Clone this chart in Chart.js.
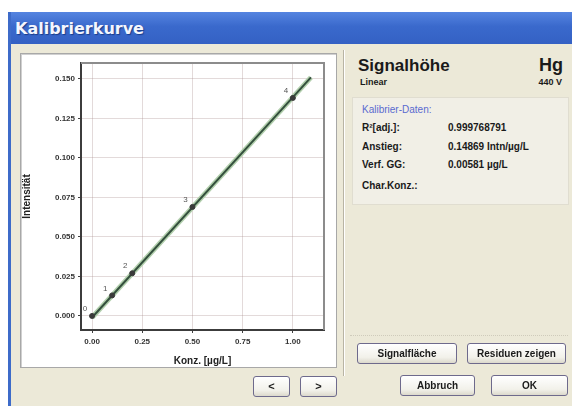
<!DOCTYPE html>
<html>
<head>
<meta charset="utf-8">
<script src="https://cdn.jsdelivr.net/npm/chart.js@4"></script>
<style>
  html, body { margin: 0; padding: 0; background: #fff; }
  body { width: 572px; height: 406px; position: relative; overflow: hidden; font-family: "Liberation Sans", Arial, sans-serif; }
  .win { position: absolute; left: 8px; top: 12px; width: 580px; height: 400px; background: #ECE9D8; border-left: 3px solid #3d6bc9; box-sizing: border-box; }
  .titlebar { position: absolute; left: 0; top: 0; right: 0; height: 32px; background: linear-gradient(#5584e0, #3a69cc 45%, #3461c4); }
  .titlebar span { position: absolute; left: 4px; top: 7px; color: #f4f6ff; font: bold 16px "DejaVu Sans", sans-serif; text-shadow: 1px 1px 1px #1b3d8a; }
  .panel { position: absolute; left: 20px; top: 53px; width: 315px; height: 313px; border: 1px solid #a8a8a8; background: #fff; box-shadow: inset 1px 1px 0 #d0d0d0; }
  .sep { position: absolute; left: 343px; top: 50px; width: 1px; height: 326px; background: #b8b4a4; border-right: 1px solid #fff; }
  .t { position: absolute; white-space: nowrap; color: #1a1a1a; font-weight: bold; }
  .box { position: absolute; left: 352px; top: 97px; width: 215px; height: 106px; background: #F1EFE6; border: 1px solid #e0ddd0; }
  .btn { position: absolute; height: 21px; box-sizing: border-box; border: 1px solid #6e6a8c; border-radius: 3px; background: linear-gradient(#ffffff, #f2f1ea 70%, #dcd9cc); font: bold 10px "Liberation Sans", Arial, sans-serif; color: #1a1a1a; text-align: center; line-height: 19px; }
  .hline { position: absolute; left: 350px; top: 335px; width: 218px; height: 0; border-top: 1px dotted #cfcbbb; }
</style>
</head>
<body>
<div class="win">
  <div class="titlebar"><span>Kalibrierkurve</span></div>
</div>
<div class="panel"><canvas id="calChart" width="315" height="313"></canvas></div>
<div class="sep"></div>

<div class="t" style="left:358px; top:56px; font-size:17px;">Signalhöhe</div>
<div class="t" style="right:9px; top:55px; font-size:18px;">Hg</div>
<div class="t" style="left:360px; top:77px; font-size:9px;">Linear</div>
<div class="t" style="right:10px; top:77px; font-size:9px;">440 V</div>

<div class="box"></div>
<div class="t" style="left:362px; top:104px; font-size:10px; font-weight:normal; color:#5a6ad0;">Kalibrier-Daten:</div>
<div class="t" style="left:362px; top:122px; font-size:10px;">R²[adj.]:</div>
<div class="t" style="left:448px; top:122px; font-size:10px;">0.999768791</div>
<div class="t" style="left:362px; top:141px; font-size:10px;">Anstieg:</div>
<div class="t" style="left:448px; top:141px; font-size:10px;">0.14869 Intn/µg/L</div>
<div class="t" style="left:362px; top:159px; font-size:10px;">Verf. GG:</div>
<div class="t" style="left:448px; top:159px; font-size:10px;">0.00581 µg/L</div>
<div class="t" style="left:362px; top:180px; font-size:10px;">Char.Konz.:</div>

<div class="hline"></div>
<div class="btn" style="left:357px; top:343px; width:100px;">Signalfläche</div>
<div class="btn" style="left:467px; top:343px; width:99px;">Residuen zeigen</div>
<div class="btn" style="left:400px; top:375px; width:75px;">Abbruch</div>
<div class="btn" style="left:491px; top:375px; width:77px;">OK</div>
<div class="btn" style="left:253px; top:376px; width:37px; font-size:11px;">&lt;</div>
<div class="btn" style="left:300px; top:376px; width:37px; font-size:11px;">&gt;</div>

<script>
// Standards (concentration µg/L) and measured intensity
const stdLabels = ['0', '1', '2', '3', '4'];
const stdConc = [0.0, 0.1, 0.2, 0.5, 1.0];
const stdIntensity = [0.000, 0.013, 0.027, 0.069, 0.138];

// Regression line end points
const fitConc = [0.0, 1.09];
const fitIntensity = [-0.001, 0.151];

// Axis ticks
const xTicks = [0, 0.25, 0.5, 0.75, 1.0];
const yTicks = [0, 0.025, 0.05, 0.075, 0.1, 0.125, 0.15];

const toPoints = (xs, ys) => xs.map((x, i) => ({ x: x, y: ys[i] }));

// frame on top/right + point numbers
const framePlugin = {
    id: 'frame',
    afterDatasetsDraw(chart) {
        const { ctx, chartArea: a, scales } = chart;
        ctx.save();
        ctx.strokeStyle = '#8c8c8c';
        ctx.lineWidth = 2;
        ctx.beginPath();
        ctx.moveTo(a.left, a.top);
        ctx.lineTo(a.right, a.top);
        ctx.lineTo(a.right, a.bottom);
        ctx.stroke();

        ctx.fillStyle = '#555';
        ctx.font = '8px "Liberation Sans", Arial, sans-serif';
        ctx.textAlign = 'center';
        ctx.textBaseline = 'middle';
        stdLabels.forEach((lab, i) => {
            const px = scales.x.getPixelForValue(stdConc[i]);
            const py = scales.y.getPixelForValue(stdIntensity[i]);
            ctx.fillText(lab, px - 7, py - 7);
        });
        ctx.restore();
    }
};

const gridColor = 'rgba(175,150,150,0.35)';

const ctx = document.getElementById('calChart').getContext('2d');
new Chart(ctx, {
    type: 'scatter',
    data: {
        datasets: [
            {
                type: 'line',
                data: toPoints(fitConc, fitIntensity),
                borderColor: '#b2cfad',
                borderWidth: 5,
                pointRadius: 0,
                order: 3
            },
            {
                type: 'line',
                data: toPoints(fitConc, fitIntensity),
                borderColor: '#34503d',
                borderWidth: 2,
                pointRadius: 0,
                order: 2
            },
            {
                data: toPoints(stdConc, stdIntensity),
                backgroundColor: '#3a3a3a',
                borderColor: '#3a3a3a',
                pointRadius: 2.5,
                order: 1
            }
        ]
    },
    options: {
        responsive: false,
        animation: false,
        events: [],
        layout: { padding: { left: 0, top: 9, right: 12, bottom: 0 } },
        plugins: {
            legend: { display: false },
            tooltip: { enabled: false }
        },
        scales: {
            x: {
                type: 'linear',
                min: -0.055,
                max: 1.155,
                afterBuildTicks: s => { s.ticks = xTicks.map(v => ({ value: v })); },
                afterFit: s => { s.height = 37; },
                grid: { color: gridColor, tickColor: '#404040', tickLength: 3 },
                border: { color: '#3c3c3c', width: 2 },
                ticks: {
                    color: '#333',
                    font: { size: 8, weight: 'bold' },
                    padding: 4,
                    maxRotation: 0,
                    callback: v => v.toFixed(2)
                },
                title: {
                    display: true,
                    text: 'Konz. [µg/L]',
                    color: '#222',
                    font: { size: 10, weight: 'bold' },
                    padding: { top: 1, bottom: 0 }
                }
            },
            y: {
                type: 'linear',
                min: -0.0089,
                max: 0.1601,
                afterBuildTicks: s => { s.ticks = yTicks.map(v => ({ value: v })); },
                afterFit: s => { s.width = 60; },
                grid: { color: gridColor, tickColor: '#404040', tickLength: 3 },
                border: { color: '#3c3c3c', width: 2 },
                ticks: {
                    color: '#333',
                    font: { size: 8, weight: 'bold' },
                    padding: 3,
                    callback: v => v.toFixed(3)
                },
                title: {
                    display: true,
                    text: 'Intensität',
                    color: '#222',
                    font: { size: 10, weight: 'bold' },
                    padding: { top: 0, bottom: 8 }
                }
            }
        }
    },
    plugins: [framePlugin]
});
</script>
</body>
</html>
